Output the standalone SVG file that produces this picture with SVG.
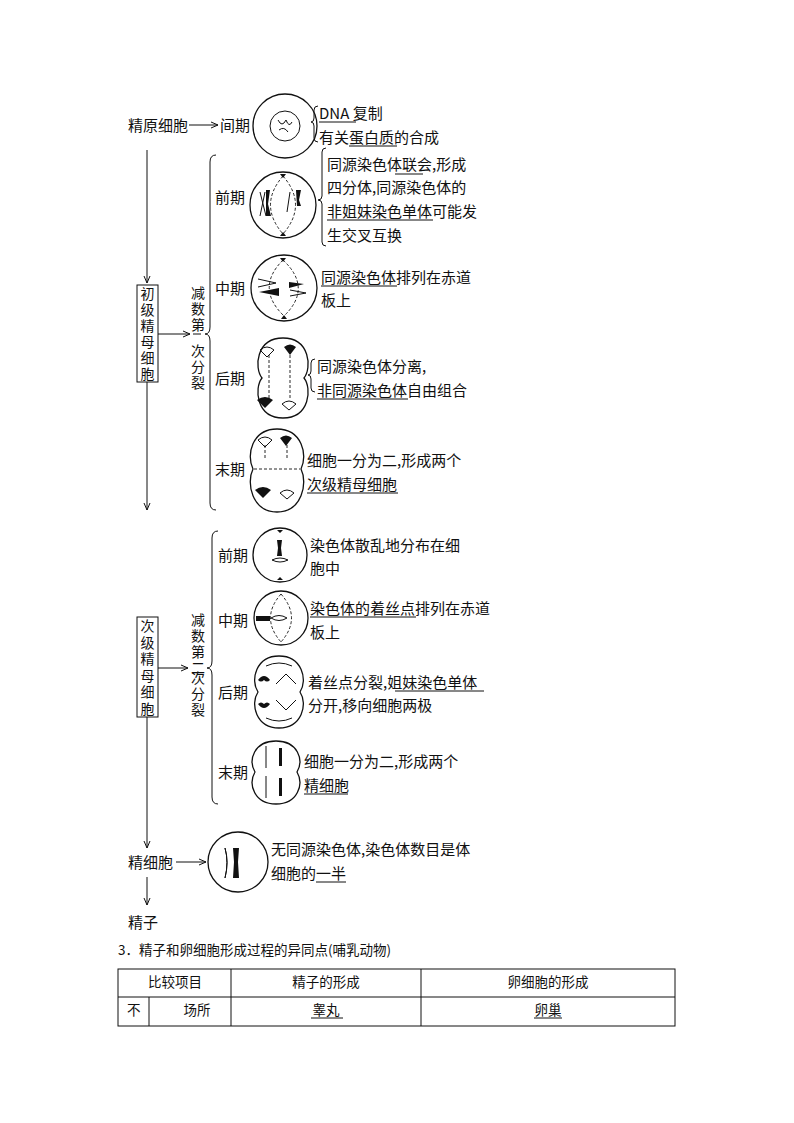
<svg xmlns="http://www.w3.org/2000/svg" width="794" height="1123" viewBox="0 0 794 1123">
<defs>
<style>
text{font-family:"Noto Sans CJK SC","Liberation Serif",serif;font-size:15px;fill:#111}
.v{font-size:14px;writing-mode:tb;letter-spacing:2px}
.s{font-family:"Noto Sans CJK SC","Liberation Sans",sans-serif;font-size:13.5px}
.l{stroke:#111;stroke-width:1;fill:none}
.c{stroke:#111;stroke-width:1.3;fill:#fff}
.d{stroke:#111;stroke-width:0.9;fill:none;stroke-dasharray:3 2}
.u{stroke:#111;stroke-width:1}
.k{fill:#111}
</style>
<marker id="a" markerWidth="8" markerHeight="8" refX="7" refY="4" orient="auto" markerUnits="userSpaceOnUse"><path d="M0,1 L7,4 L0,7" fill="none" stroke="#111" stroke-width="1"/></marker>
</defs>
<g id="connectors">
<line class="l" x1="189" y1="125" x2="218" y2="125" marker-end="url(#a)"/>
<line class="l" x1="147" y1="150" x2="147" y2="283" marker-end="url(#a)"/>
<line class="l" x1="147" y1="382" x2="147" y2="510" marker-end="url(#a)"/>
<line class="l" x1="158" y1="334" x2="190" y2="334" marker-end="url(#a)"/>
<line class="l" x1="147" y1="717" x2="147" y2="848" marker-end="url(#a)"/>
<line class="l" x1="158" y1="668" x2="188" y2="668" marker-end="url(#a)"/>
<line class="l" x1="176" y1="862" x2="206" y2="862" marker-end="url(#a)"/>
<line class="l" x1="147" y1="877" x2="147" y2="905" marker-end="url(#a)"/>
<path class="l" d="M216,155 Q210,155 210,162 L210,327 Q210,334 205,334 Q210,334 210,341 L210,503 Q210,510 216,510"/>
<path class="l" d="M218,531 Q212,531 212,538 L212,661 Q212,668 207,668 Q212,668 212,675 L212,797 Q212,804 218,804"/>
</g>
<g id="spermatogonium"><text x="128" y="131">精原细胞</text><text x="220" y="131">间期</text>
<circle class="c" cx="285" cy="126" r="32"/><circle class="l" cx="285" cy="126" r="15"/><path class="l" d="M278,120 q4,8 8,0 q3,8 6,2 M279,130 q5,-4 9,2"/>
<path class="l" d="M318,106 q-4,0 -4,4 v8 q0,4 -3,4 q3,0 3,4 v12 q0,4 4,4"/>
<text x="319" y="119">DNA 复制</text><line class="u" x1="319" y1="122" x2="356" y2="122"/>
<text x="319" y="143">有关蛋白质的合成</text><line class="u" x1="349" y1="146" x2="397" y2="146"/></g>
<g id="primary"><rect x="137" y="285" width="21" height="97" fill="#fff" stroke="#111"/>
<text class="v" x="147.5" y="287">初级精母细胞</text>
<text class="v" x="198" y="286">减数第</text><line class="u" x1="193" y1="334" x2="201" y2="334"/>
<text class="v" x="198" y="344">次分裂</text></g>
<g id="m1pro"><text x="215" y="203">前期</text><circle class="c" cx="283" cy="205" r="33"/>
<path class="d" d="M283,176 Q258,205 283,234 M283,176 Q308,205 283,234"/>
<path class="k" d="M266,190 l4,0 l-2,14 l3,12 l-5,0 l0,-12z M296,190 l5,0 l-2,10 l2,6 l-4,0z"/><path class="l" d="M260,192 l6,24 M265,192 l-5,24 M290,192 l-3,20"/>
<path class="k" d="M280,174 l6,0 l-3,4z M280,236 l6,0 l-3,-4z"/>
<path class="l" d="M326,148 q-4,0 -4,4 v44 q0,4 -4,4 q4,0 4,4 v38 q0,4 4,4"/>
<text x="327" y="170">同源染色体联会,形成</text><line class="u" x1="395" y1="174" x2="423" y2="174"/>
<text x="327" y="193">四分体,同源染色体的</text>
<text x="327" y="217">非姐妹染色单体可能发</text><line class="u" x1="327" y1="220" x2="433" y2="220"/>
<text x="327" y="241">生交叉互换</text></g>
<g id="m1meta"><text x="215" y="294">中期</text><circle class="c" cx="284" cy="288" r="33"/>
<path class="d" d="M283,260 Q255,288 284,316 M283,260 Q313,288 284,316"/>
<path class="k" d="M259,292 l20,-4 l0,8z M289,282 l15,2 l-15,4z"/><path class="l" d="M258,279 l18,4 l-18,4 M290,296 l16,-3 l-16,-3"/>
<path class="k" d="M280,258 l6,0 l-3,4z M281,319 l6,0 l-3,-4z"/>
<text x="321" y="283">同源染色体排列在赤道</text><line class="u" x1="321" y1="286" x2="397" y2="286"/>
<text x="321" y="306">板上</text></g>
<g id="m1ana"><text x="215" y="384">后期</text>
<path class="c" d="M283,338 C310,338 312,368 304,378 C312,388 310,418 283,418 C256,418 254,388 262,378 C254,368 256,338 283,338z"/>
<path class="d" d="M269,355 V400 M290,355 V400"/><path class="k" d="M284,347 q6,-5 12,0 l-6,8z M257,400 q8,-6 16,0 l-8,8z"/><path class="l" d="M260,350 q7,-6 14,0 l-7,7z M282,404 q7,-6 14,0 l-7,6z"/>
<path class="l" d="M315,359 q-4,0 -4,4 v8 q0,4 -3,4 q3,0 3,4 v9 q0,4 4,4"/>
<text x="317" y="372">同源染色体分离,</text>
<text x="317" y="396">非同源染色体自由组合</text><line class="u" x1="317" y1="399" x2="408" y2="399"/></g>
<g id="m1telo"><text x="215" y="475">末期</text>
<path class="c" d="M277,429 C302,429 308,455 301,469 C308,483 302,512 277,512 C252,512 246,483 253,469 C246,455 252,429 277,429z"/>
<line class="d" x1="254" y1="469" x2="300" y2="469"/><path class="d" d="M265,445 V460 M287,445 V460"/>
<path class="k" d="M280,438 q6,-5 12,0 l-6,8z M255,490 q8,-6 16,0 l-8,8z"/><path class="l" d="M258,440 q7,-6 14,0 l-7,7z M280,493 q7,-6 14,0 l-7,6z"/>
<text x="307" y="466">细胞一分为二,形成两个</text>
<text x="307" y="490">次级精母细胞</text><line class="u" x1="307" y1="493" x2="398" y2="493"/></g>
<g id="secondary"><rect x="137" y="617" width="21" height="100" fill="#fff" stroke="#111"/>
<text class="v" x="147.5" y="619" style="letter-spacing:2.5px">次级精母细胞</text>
<text class="v" x="198" y="613">减数第二</text>
<text class="v" x="198" y="671">次分裂</text></g>
<g id="m2pro"><text x="218" y="561">前期</text><circle class="c" cx="280" cy="555" r="27"/>
<path class="k" d="M277,540 h5 l-1,8 l1,8 h-5 l1,-8z M277,530 h6 l-3,3z M277,580 h6 l-3,-3z"/><path class="l" d="M272,560 q8,-4 16,0 q-8,4 -16,0"/>
<text x="310" y="551">染色体散乱地分布在细</text><text x="310" y="574">胞中</text></g>
<g id="m2meta"><text x="218" y="626">中期</text><circle class="c" cx="281" cy="618" r="27"/>
<path class="d" d="M281,594 Q260,618 281,642 M281,594 Q302,618 281,642"/>
<path class="k" d="M256,616 h14 v5 h-14z"/><path class="l" d="M271,618 q8,-5 16,0 q-8,5 -16,0"/>
<text x="310" y="614">染色体的着丝点排列在赤道</text><line class="u" x1="310" y1="617" x2="416" y2="617"/>
<text x="310" y="638">板上</text></g>
<g id="m2ana"><text x="218" y="698">后期</text>
<path class="c" d="M279,656 C302,656 308,680 300,692 C308,704 302,728 279,728 C256,728 250,704 258,692 C250,680 256,656 279,656z"/>
<path class="k" d="M258,680 q6,-8 12,0 q-3,3 -6,0 q-3,3 -6,0z M258,704 q6,8 12,0 q-3,-3 -6,0 q-3,-3 -6,0z"/><path class="l" d="M276,684 l10,-10 l10,10 M276,700 l10,10 l10,-10 M266,666 q13,-6 26,0 M266,718 q13,6 26,0"/>
<text x="308" y="688">着丝点分裂,姐妹染色单体</text><line class="u" x1="395" y1="691" x2="484" y2="691"/>
<text x="308" y="711">分开,移向细胞两极</text></g>
<g id="m2telo"><text x="218" y="778">末期</text>
<path class="c" d="M276,741 C298,741 304,760 297,772 C304,784 298,804 276,804 C254,804 248,784 255,772 C248,760 254,741 276,741z"/>
<path class="l" d="M266,746 v22 M266,776 v22"/><path class="k" d="M279,748 h3 v18 h-3z M279,778 h3 v18 h-3z"/>
<text x="304" y="767">细胞一分为二,形成两个</text>
<text x="304" y="791">精细胞</text><line class="u" x1="304" y1="794" x2="348" y2="794"/></g>
<g id="spermatid"><text x="128" y="868">精细胞</text><circle class="c" cx="238" cy="862" r="30"/>
<path class="l" d="M225,848 q4,14 0,30 q4,-16 0,-30z"/><path class="k" d="M233,848 h6 l-1,14 l1,16 h-6 l1,-16z"/>
<text x="271" y="855">无同源染色体,染色体数目是体</text>
<text x="271" y="879">细胞的一半</text><line class="u" x1="316" y1="882" x2="346" y2="882"/></g>
<g id="sperm"><text x="128" y="928">精子</text></g>
<g id="heading"><text class="s" x="118" y="955">3．精子和卵细胞形成过程的异同点(哺乳动物)</text></g>
<g id="table" class="s">
<rect x="118" y="969" width="557" height="57" fill="none" stroke="#111"/>
<line class="u" x1="118" y1="997" x2="675" y2="997"/><line class="u" x1="149" y1="997" x2="149" y2="1026"/>
<line class="u" x1="231" y1="969" x2="231" y2="1026"/><line class="u" x1="421" y1="969" x2="421" y2="1026"/>
<text class="s" x="175" y="987" text-anchor="middle">比较项目</text>
<text class="s" x="326" y="987" text-anchor="middle">精子的形成</text>
<text class="s" x="548" y="987" text-anchor="middle">卵细胞的形成</text>
<text class="s" x="127" y="1015">不</text>
<text class="s" x="197" y="1015" text-anchor="middle">场所</text>
<text class="s" x="326" y="1015" text-anchor="middle">睾丸</text><line class="u" x1="311" y1="1018" x2="343" y2="1018"/>
<text class="s" x="548" y="1015" text-anchor="middle">卵巢</text><line class="u" x1="534" y1="1018" x2="562" y2="1018"/>
</g>
</svg>
